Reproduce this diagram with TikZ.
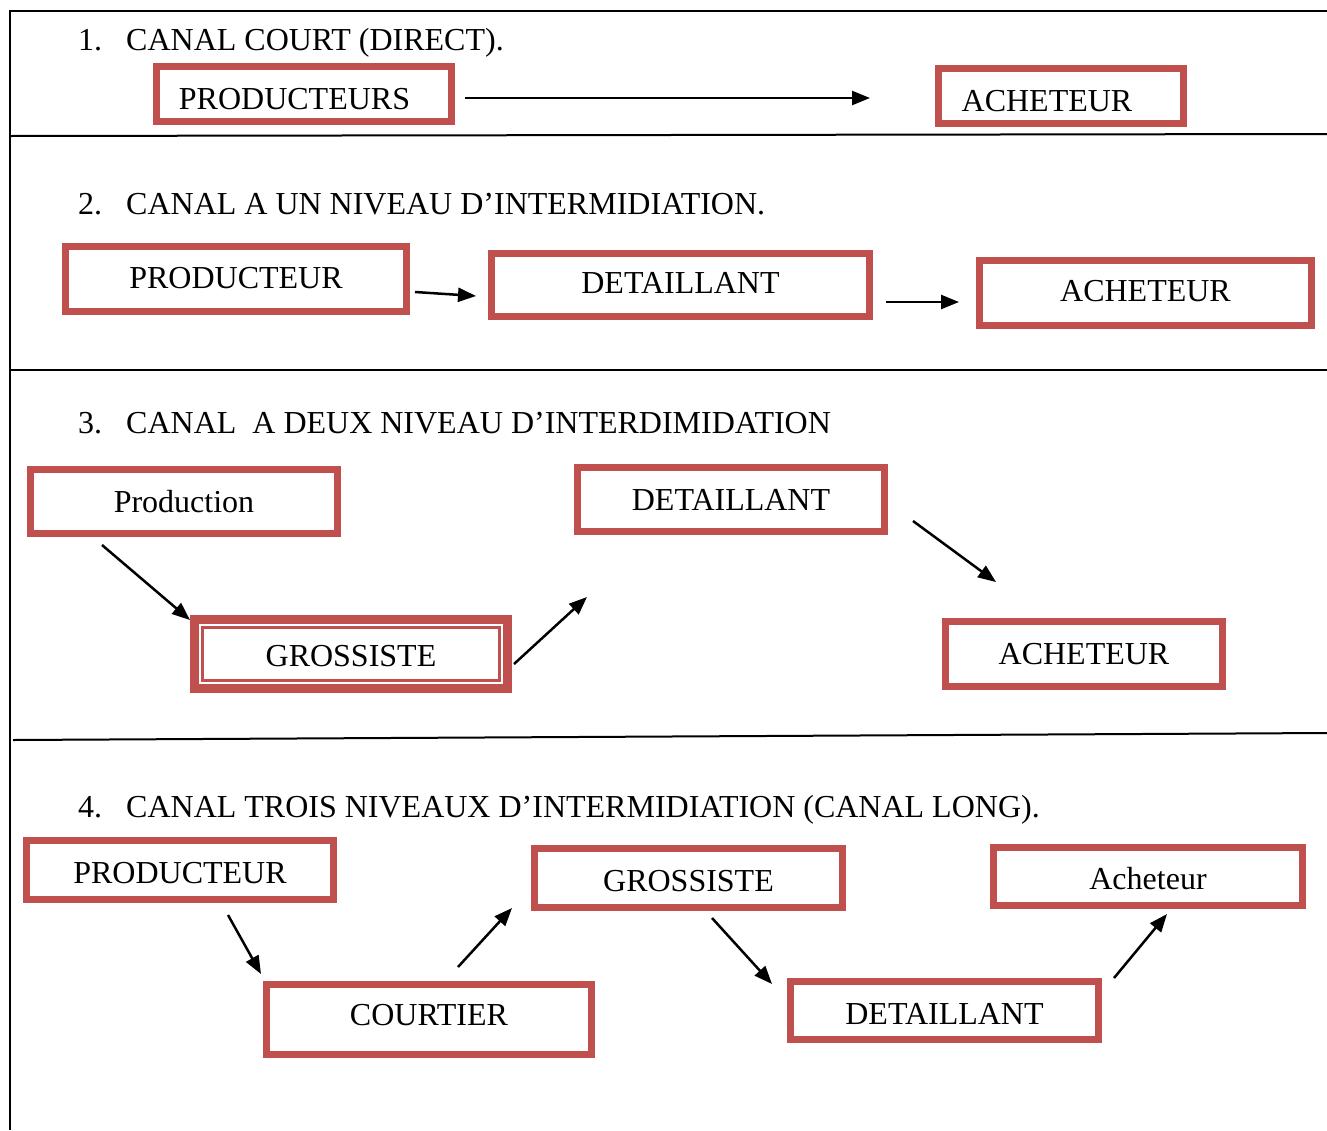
\documentclass[tikz,border=0pt]{standalone}
\usepackage{fontspec}
\setmainfont{Liberation Serif}
\usetikzlibrary{arrows.meta}
\definecolor{boxred}{HTML}{C0504D}
\begin{document}
\begin{tikzpicture}[x=1pt,y=-1pt,
  txt/.style={font=\fontsize{32}{38}\selectfont},
  rbox/.style={txt, draw=boxred, line width=7pt, inner sep=0pt, align=center,
    text height=21pt, text depth=0pt},
  dbox/.style={rbox, line width=14pt},
  title/.style={txt, anchor=base west, inner sep=0pt},
  frame/.style={line width=2pt, black},
  flow/.style={line width=2.5pt, -{Triangle[length=18pt,width=14pt]}}]
\useasboundingbox (0,0) rectangle (1327,1130);

% page frame and section separators
\draw[frame] (1327,11) -- (10,11) -- (10,1130);
\draw[frame] (10,136) -- (1327,134);
\draw[frame] (10,370) -- (1327,370);
\draw[frame] (13,740) -- (1327,733);

% 1. direct channel
\node[title] (n1) at (78,50) {1.};
\node[title] (t1) at (126,50) {CANAL COURT (DIRECT).};
\node[rbox, minimum width=295pt, minimum height=55pt] (p1) at (304,94) {\raisebox{-4.5pt}{PRODUCTEURS}\hspace*{19pt}};
\node[rbox, minimum width=245pt, minimum height=55pt] (a1) at (1061,96) {\raisebox{-4.5pt}{ACHETEUR}\hspace*{28pt}};
\coordinate (r1s) at (465,98);
\coordinate (r1e) at (870,98);
\draw[flow] (r1s) -- (r1e);

% 2. one intermediary
\node[title] (n2) at (78,214) {2.};
\node[title] (t2) at (126,214) {CANAL A UN NIVEAU D’INTERMIDIATION.};
\node[rbox, minimum width=341pt, minimum height=65pt] (p2) at (236,279) {\raisebox{1.5pt}{PRODUCTEUR}};
\node[rbox, minimum width=378pt, minimum height=63pt] (d2) at (680.5,285) {\raisebox{2pt}{DETAILLANT}};
\node[rbox, minimum width=332pt, minimum height=65pt] (a2) at (1145.5,293) {\raisebox{2pt}{ACHETEUR}};
\coordinate (r2as) at (415,292);
\coordinate (r2ae) at (476,296);
\coordinate (r2bs) at (886,302);
\coordinate (r2be) at (959,302);
\draw[flow] (r2as) -- (r2ae);
\draw[flow] (r2bs) -- (r2be);

% 3. two intermediaries
\node[title] (n3) at (78,433) {3.};
\node[title] (t3) at (126,433) {CANAL \ A DEUX NIVEAU D’INTERDIMIDATION};
\node[rbox, minimum width=307pt, minimum height=64pt] (pr3) at (184,501.5) {Production};
\node[rbox, minimum width=307pt, minimum height=64pt] (d3) at (731,499.5) {DETAILLANT};
\node[dbox, minimum width=308pt, minimum height=64pt] (g3) at (351,654) {\raisebox{-2pt}{GROSSISTE}};
% thin white gap that splits the thick frame into a thick-thin border
\draw[white, line width=2pt] ([shift={(10.3,10.3)}]g3.north west) rectangle ([shift={(-10.3,-10.3)}]g3.south east);
\node[rbox, minimum width=277pt, minimum height=65pt] (a3) at (1084,654) {ACHETEUR};
\coordinate (r3as) at (102,545);
\coordinate (r3ae) at (190,620);
\coordinate (r3bs) at (514,664);
\coordinate (r3be) at (587,597);
\coordinate (r3cs) at (913,521);
\coordinate (r3ce) at (996,582);
\draw[flow] (r3as) -- (r3ae);
\draw[flow] (r3bs) -- (r3be);
\draw[flow] (r3cs) -- (r3ce);

% 4. three intermediaries (long channel)
\node[title] (n4) at (78,817) {4.};
\node[title] (t4) at (126,817) {CANAL TROIS NIVEAUX D’INTERMIDIATION (CANAL LONG).};
\node[rbox, minimum width=307pt, minimum height=59pt] (p4) at (180,870) {\raisebox{-2.5pt}{PRODUCTEUR}};
\node[rbox, minimum width=325pt, minimum height=70pt] (c4) at (429,1019.5) {\raisebox{4.5pt}{COURTIER}};
\node[rbox, minimum width=308pt, minimum height=59pt] (g4) at (688.5,878) {\raisebox{-3pt}{GROSSISTE}};
\node[rbox, minimum width=308pt, minimum height=58pt] (d4) at (944.5,1010.5) {\raisebox{-3pt}{DETAILLANT}};
\node[rbox, minimum width=309pt, minimum height=58pt] (ac4) at (1148,876.5) {\raisebox{-2.5pt}{Acheteur}};
\coordinate (r4as) at (228,915);
\coordinate (r4ae) at (261,974);
\coordinate (r4bs) at (458,967);
\coordinate (r4be) at (512,908);
\coordinate (r4cs) at (712,918);
\coordinate (r4ce) at (772,984);
\coordinate (r4ds) at (1114,978);
\coordinate (r4de) at (1167,914);
\draw[flow] (r4as) -- (r4ae);
\draw[flow] (r4bs) -- (r4be);
\draw[flow] (r4cs) -- (r4ce);
\draw[flow] (r4ds) -- (r4de);
\end{tikzpicture}
\end{document}
